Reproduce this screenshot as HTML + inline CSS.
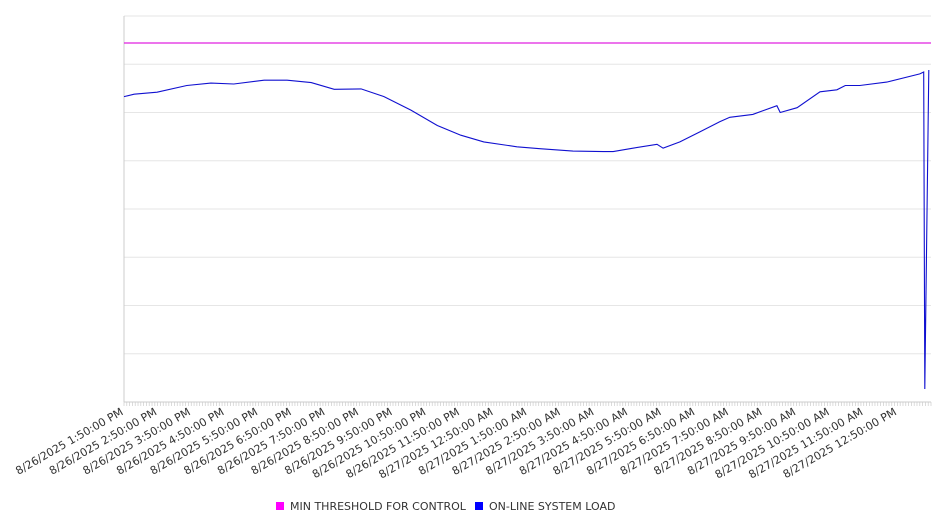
<!DOCTYPE html>
<html><head><meta charset="utf-8"><style>
body{margin:0;background:#fff;width:946px;height:526px;overflow:hidden;font-family:"DejaVu Sans","Liberation Sans",sans-serif}
</style></head><body>
<svg id="chart" width="946" height="526" xmlns="http://www.w3.org/2000/svg" font-family="DejaVu Sans, Liberation Sans, sans-serif"></svg>
<script>
const gridValues=[0,100,200,300,400,500,600,700,800];
const hourLabels=["8/26/2025 1:50:00 PM","8/26/2025 2:50:00 PM","8/26/2025 3:50:00 PM","8/26/2025 4:50:00 PM","8/26/2025 5:50:00 PM","8/26/2025 6:50:00 PM","8/26/2025 7:50:00 PM","8/26/2025 8:50:00 PM","8/26/2025 9:50:00 PM","8/26/2025 10:50:00 PM","8/26/2025 11:50:00 PM","8/27/2025 12:50:00 AM","8/27/2025 1:50:00 AM","8/27/2025 2:50:00 AM","8/27/2025 3:50:00 AM","8/27/2025 4:50:00 AM","8/27/2025 5:50:00 AM","8/27/2025 6:50:00 AM","8/27/2025 7:50:00 AM","8/27/2025 8:50:00 AM","8/27/2025 9:50:00 AM","8/27/2025 10:50:00 AM","8/27/2025 11:50:00 AM","8/27/2025 12:50:00 PM"];
const loadMinutes=[0,18,59,112,155,196,250,291,334,375,423,464,512,559,601,642,701,742,801,855,873,908,951,962,992,1028,1063,1081,1122,1165,1171,1201,1242,1272,1287,1313,1361,1420,1427,1429,1436];
const loadValues=[633,638,642,656,661,659,667,667,662,648,649,633,605,573,553,539,529,525,520,519,519,526,534,526,539,560,581,590,596,614,600,610,643,647,656,656,663,680,684,27,688];
const thresholdValue=744;
const totalMinutes=1440;
const X0=124,X1=931,Y0=402,Y1=16,VMAX=800;
const sx=m=>X0+(X1-X0)*m/totalMinutes;
const sy=v=>Y0-(Y0-Y1)*v/VMAX;
const svg=document.getElementById('chart');
const NS='http://www.w3.org/2000/svg';
function mk(tag,attrs){const e=document.createElementNS(NS,tag);for(const k in attrs)e.setAttribute(k,attrs[k]);svg.appendChild(e);return e;}
gridValues.forEach(v=>{
  const l=mk('line',{x1:X0,x2:X1,y1:sy(v),y2:sy(v),stroke:'#e6e6e6','stroke-width':1});
  
  
});
const ax=mk('line',{x1:X0,x2:X0,y1:Y1,y2:Y0,stroke:'#ccc'});


const bx=mk('line',{x1:X0,x2:X1,y1:Y0,y2:Y0,stroke:'#ccc'});


for(let m=0;m<=totalMinutes;m+=5){
  const t=mk('line',{x1:sx(m),x2:sx(m),y1:Y0,y2:Y0+4,stroke:'#ccc','stroke-width':0.7});
  
  
}
hourLabels.forEach((s,i)=>{
  const x=sx(i*60);
  const t=mk('text',{x:x,y:Y0+12,'font-size':11,fill:'#333','text-anchor':'end',transform:`rotate(-30 ${x} ${Y0+12})`});
  t.textContent=s;
  
  
});
const th=mk('line',{x1:X0,x2:X1,y1:sy(thresholdValue),y2:sy(thresholdValue),stroke:'#e020e0','stroke-width':1.2});


const pts=loadMinutes.map((m,i)=>sx(m).toFixed(1)+','+sy(loadValues[i]).toFixed(1)).join(' ');
const pl=mk('polyline',{points:pts,fill:'none',stroke:'#1010d0','stroke-width':1.1});


const r1=mk('rect',{x:276,y:502,width:8,height:8,fill:'#ff00ff'});


const t1=mk('text',{x:290,y:510,'font-size':11,fill:'#333'});t1.textContent='MIN THRESHOLD FOR CONTROL';


const r2=mk('rect',{x:475,y:502,width:8,height:8,fill:'#0000ff'});


const t2=mk('text',{x:489,y:510,'font-size':11,fill:'#333'});t2.textContent='ON-LINE SYSTEM LOAD';


</script>
</body></html>
